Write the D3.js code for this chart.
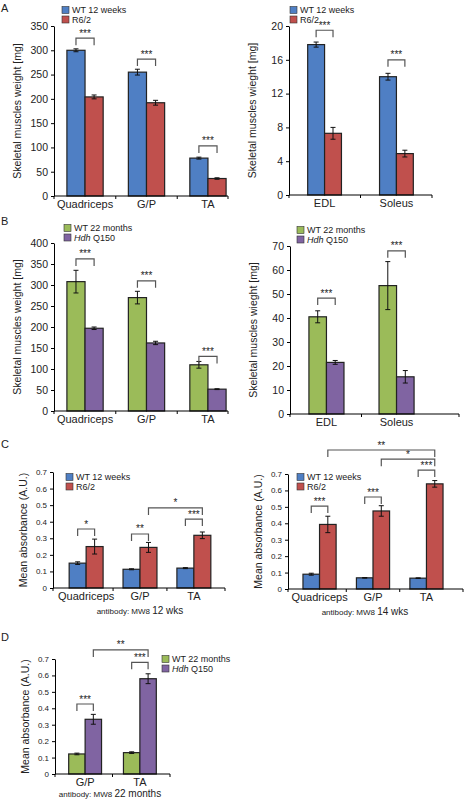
<!DOCTYPE html>
<html><head><meta charset="utf-8">
<script src="https://cdn.jsdelivr.net/npm/d3@7"></script>
<style>body{margin:0;background:#fff}text{font-family:"Liberation Sans",Arial,sans-serif;fill:#222}</style>
</head><body>
<svg id="fig" width="464" height="800"></svg>
<script>
const BLUE = '#4f7fc4', RED = '#c0504d', GREEN = '#9bbb59', PURPLE = '#8064a2';

const catsA = ['Quadriceps', 'G/P', 'TA'];
const catsSmall = ['EDL', 'Soleus'];
const catsD = ['G/P', 'TA'];

const aLeftWT = [300, 255, 78], aLeftWTErr = [3, 6, 2];
const aLeftR6 = [204, 192, 36], aLeftR6Err = [4, 5, 1.5];
const aRightWT = [17.8, 14.0], aRightWTErr = [0.3, 0.4];
const aRightR6 = [7.3, 4.9], aRightR6Err = [0.7, 0.4];
const bLeftWT = [308, 270, 110], bLeftWTErr = [27, 15, 8];
const bLeftQ = [197, 162, 52], bLeftQErr = [3, 4, 1];
const bRightWT = [40.5, 53.5], bRightWTErr = [2.5, 10];
const bRightQ = [21.5, 15.5], bRightQErr = [0.8, 2.6];
const cLeftWT = [0.15, 0.113, 0.12], cLeftWTErr = [0.008, 0.003, 0.003];
const cLeftR6 = [0.25, 0.245, 0.318], cLeftR6Err = [0.045, 0.03, 0.02];
const cRightWT = [0.09, 0.068, 0.066], cRightWTErr = [0.006, 0.002, 0.002];
const cRightR6 = [0.393, 0.475, 0.64], cRightR6Err = [0.05, 0.032, 0.02];
const dWT = [0.122, 0.13], dWTErr = [0.005, 0.005];
const dQ = [0.333, 0.58], dQErr = [0.03, 0.03];

const svg = d3.select('#fig');

function panel (o) {
  const g = svg.append('g');
  const x = d3.scaleBand().domain(o.cats).range([o.x0, o.x1]).paddingInner(o.pin).paddingOuter(o.pout);
  const y = d3.scaleLinear().domain([0, o.max]).range([o.y0, o.y1]);
  const bw = x.bandwidth() / 2;
  const axEnd = o.axEnd || o.x1;
  const series = [[o.s1, o.e1, o.c1], [o.s2, o.e2, o.c2]];
  series.forEach(([vals, errs, col], si) => {
    const sel = g.selectAll(null).data(o.cats.map((c, i) => ({ c, v: vals[i], e: errs[i] })));
    sel.enter().append('rect')
      .attr('x', d => x(d.c) + si * bw).attr('width', bw)
      .attr('y', d => y(d.v)).attr('height', d => y(0) - y(d.v))
      .attr('fill', col).attr('stroke', '#222').attr('stroke-width', 1.2);
    const eb = sel.enter().append('g').attr('stroke', '#111').attr('stroke-width', 1);
    eb.append('line').attr('x1', d => x(d.c) + si * bw + bw / 2).attr('x2', d => x(d.c) + si * bw + bw / 2)
      .attr('y1', d => y(d.v - d.e)).attr('y2', d => y(d.v + d.e));
    [1, -1].forEach(s => eb.append('line')
      .attr('x1', d => x(d.c) + si * bw + bw / 2 - 2.5).attr('x2', d => x(d.c) + si * bw + bw / 2 + 2.5)
      .attr('y1', d => y(d.v + s * d.e)).attr('y2', d => y(d.v + s * d.e)));
  });
  const ya = g.append('g').attr('transform', `translate(${o.x0},0)`)
    .call(d3.axisLeft(y).tickValues(o.ticks).tickFormat(o.fmt || (d => d)).tickSize(3).tickSizeOuter(0));
  ya.selectAll('text').style('font-size', o.tfs || '10.5px');
  const xa = g.append('g').attr('transform', `translate(0,${o.y0})`)
    .call(d3.axisBottom(x).tickSize(0).tickPadding(4));
  xa.select('.domain').attr('d', `M${o.x0},0H${axEnd}`);
  xa.selectAll('.tick text').style('font-size', '11px');
  const stepX = x.step();
  const divs = [o.x0].concat(o.cats.slice(1).map(c => x(c) - stepX * o.pin / 2), [axEnd]);
  xa.selectAll(null).data(divs).enter().append('line')
    .attr('x1', d => d).attr('x2', d => d).attr('y1', 0).attr('y2', 3)
    .attr('stroke', '#000');
  g.selectAll('.domain').attr('stroke', '#000');
  g.append('text').attr('transform', `translate(${o.x0 - (o.ylOff || 33)},${(o.y0 + o.y1) / 2}) rotate(-90)`)
    .attr('text-anchor', 'middle').style('font-size', '10.5px').text(o.ylabel);
  // brackets
  (o.br || []).forEach(b => {
    const xa1 = x(o.cats[b[0]]) + b[1] * bw + bw / 2;
    const xa2 = x(o.cats[b[2]]) + b[3] * bw + bw / 2;
    const yy = y(b[4]);
    g.append('path').attr('d', `M${xa1},${yy + 7}V${yy}H${xa2}V${yy + 7}`)
      .attr('fill', 'none').attr('stroke', '#555').attr('stroke-width', 1.2);
    g.append('text').attr('x', (xa1 + xa2) / 2).attr('y', yy - 1.5).attr('text-anchor', 'middle')
      .style('font-size', '10px').text(b[5]);
  });
  // legend
  o.leg.forEach((l, i) => {
    g.append('rect').attr('x', o.lx).attr('y', o.ly + i * 9.5 - 6.5).attr('width', 7).attr('height', 7)
      .attr('fill', l[1]).attr('stroke', '#333').attr('stroke-width', 0.6);
    const t = g.append('text').attr('x', o.lx + 10).attr('y', o.ly + i * 9.5).style('font-size', '9px');
    if (l[0] === 'Q150') {
      t.append('tspan').style('font-style', 'italic').text('Hdh');
      t.append('tspan').text(' Q150');
    } else t.text(l[0]);
  });
  if (o.caption) {
    const t = g.append('text').attr('x', o.capX).attr('y', o.capY).attr('text-anchor', 'middle');
    t.append('tspan').style('font-size', '8px').text('antibody: MW8  ');
    t.append('tspan').style('font-size', '10px').text(o.caption);
  }
}

const legR6 = [['WT 12 weeks', BLUE], ['R6/2', RED]];
const legQ = [['WT 22 months', GREEN], ['Q150', PURPLE]];
const f1 = d => d === 0 ? '0' : d3.format('.1f')(d);

panel({ cats: catsA, x0: 54, x1: 239, axEnd: 228, y0: 196, y1: 26, max: 350, ticks: d3.range(0, 351, 50), pin: 0.41, pout: 0.21,
  s1: aLeftWT, e1: aLeftWTErr, c1: BLUE, s2: aLeftR6, e2: aLeftR6Err, c2: RED, ylabel: 'Skeletal muscles weight [mg]',
  br: [[0, 0, 0, 1, 325, '***'], [1, 0, 1, 1, 282, '***'], [2, 0, 2, 1, 103, '***']], leg: legR6, lx: 62, ly: 13 });
panel({ cats: catsSmall, x0: 289, x1: 432, y0: 195, y1: 26, max: 20, ticks: d3.range(0, 21, 4), pin: 0.53, pout: 0.26,
  s1: aRightWT, e1: aRightWTErr, c1: BLUE, s2: aRightR6, e2: aRightR6Err, c2: RED, ylabel: 'Skeletal muscles wieght [mg]',
  br: [[0, 0, 0, 1, 19.5, '***'], [1, 0, 1, 1, 16, '***']], leg: legR6, lx: 290, ly: 13 });
panel({ cats: catsA, x0: 54, x1: 239, axEnd: 228, y0: 411, y1: 243, max: 400, ticks: d3.range(0, 401, 50), pin: 0.41, pout: 0.21,
  s1: bLeftWT, e1: bLeftWTErr, c1: GREEN, s2: bLeftQ, e2: bLeftQErr, c2: PURPLE, ylabel: 'Skeletal muscles weight [mg]',
  br: [[0, 0, 0, 1, 362, '***'], [1, 0, 1, 1, 310, '***'], [2, 0, 2, 1, 130, '***']], leg: legQ, lx: 64, ly: 231 });
panel({ cats: catsSmall, x0: 290, x1: 433, axEnd: 459, y0: 414, y1: 246, max: 70, ticks: d3.range(0, 71, 10), pin: 0.5, pout: 0.27,
  s1: bRightWT, e1: bRightWTErr, c1: GREEN, s2: bRightQ, e2: bRightQErr, c2: PURPLE, ylabel: 'Skeletal muscles wieght [mg]',
  br: [[0, 0, 0, 1, 48.3, '***'], [1, 0, 1, 1, 68, '***']], leg: legQ, lx: 297, ly: 233 });
panel({ cats: catsA, x0: 53, x1: 227, axEnd: 225, y0: 588, y1: 472, max: 0.7, ticks: d3.range(0, 0.71, 0.1), fmt: f1, tfs: '8px', pin: 0.37, pout: 0.3, ylOff: 26,
  s1: cLeftWT, e1: cLeftWTErr, c1: BLUE, s2: cLeftR6, e2: cLeftR6Err, c2: RED, ylabel: 'Mean absorbance (A.U.)',
  br: [[0, 0, 0, 1, 0.356, '*'], [1, 0, 1, 1, 0.326, '**'], [2, 0, 2, 1, 0.416, '***'], [1, 1, 2, 1, 0.483, '*']],
  leg: legR6, lx: 66, ly: 480, caption: '12 wks', capX: 140, capY: 614 });
panel({ cats: catsA, x0: 288, x1: 458, axEnd: 463, y0: 589, y1: 474, max: 0.7, ticks: d3.range(0, 0.71, 0.1), fmt: f1, tfs: '8px', pin: 0.38, pout: 0.28, ylOff: 26,
  s1: cRightWT, e1: cRightWTErr, c1: BLUE, s2: cRightR6, e2: cRightR6Err, c2: RED, ylabel: 'Mean absorbance (A.U.)',
  br: [[0, 0, 0, 1, 0.505, '***'], [1, 0, 1, 1, 0.56, '***'], [2, 0, 2, 1, 0.724, '***'], [1, 1, 2, 1, 0.79, '*'], [0, 1, 2, 1, 0.846, '**']],
  leg: legR6, lx: 297, ly: 480, caption: '14 wks', capX: 365, capY: 615 });
panel({ cats: catsD, x0: 55, x1: 170, y0: 774, y1: 659, max: 0.7, ticks: d3.range(0, 0.71, 0.1), fmt: f1, tfs: '8px', pin: 0.4, pout: 0.25, ylOff: 26,
  s1: dWT, e1: dWTErr, c1: GREEN, s2: dQ, e2: dQErr, c2: PURPLE, ylabel: 'Mean absorbance (A.U.)',
  br: [[0, 0, 0, 1, 0.426, '***'], [1, 0, 1, 1, 0.68, '***'], [0, 1, 1, 1, 0.755, '**']],
  leg: legQ, lx: 162, ly: 662, caption: '22 months', capX: 110, capY: 797 });

[['A', 12], ['B', 225], ['C', 448], ['D', 641]].forEach(([t, yy]) =>
  svg.append('text').attr('x', 1).attr('y', yy).style('font-size', '11px').text(t));
</script>
</body></html>
